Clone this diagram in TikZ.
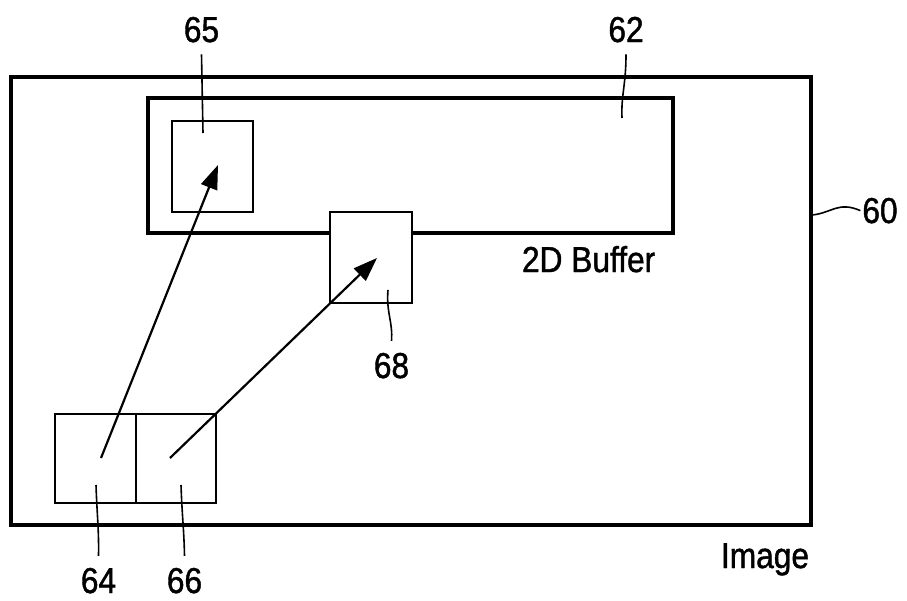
\documentclass[tikz,border=0pt]{standalone}
\usepackage{fontspec}
\setmainfont{Liberation Sans}[FakeStretch=0.88,FakeBold=1.2]
\usetikzlibrary{arrows.meta}
\begin{document}
\begin{tikzpicture}[x=1pt,y=-1pt,
frame/.style={draw=black,line width=4.5pt,inner sep=0pt},
cell/.style={draw=black,line width=2.7pt,fill=white,inner sep=0pt},
num/.style={font=\fontsize{36}{40}\selectfont,inner sep=0pt,outer sep=12pt,anchor=base},
ptr/.style={line width=2.2pt,-{Triangle[length=24pt,width=17pt]}},
lead/.style={line width=1.6pt}
]
\useasboundingbox (0,0) rectangle (907,600);
\node[frame,minimum width=800pt,minimum height=448pt] (image) at (411,301) {};
\node[frame,minimum width=525pt,minimum height=135pt] (buffer) at (410.5,165.5) {};
\node[cell,minimum width=81pt,minimum height=91pt] (b65) at (212.5,166.5) {};
\node[cell,minimum width=82pt,minimum height=91pt] (b68) at (371,257.5) {};
\node[cell,minimum width=81pt,minimum height=89pt] (b64) at (95.5,458.5) {};
\node[cell,minimum width=80pt,minimum height=89pt] (b66) at (176,458.5) {};
% arrow ends inside the cells
\coordinate (s64) at (101,458);
\coordinate (e65) at (218,165);
\coordinate (s66) at (170,458);
\coordinate (e68) at (377,258);
\draw[ptr] (s64) -- (e65);
\draw[ptr] (s66) -- (e68);
% labels
\node[num] (l65) at (201.5,42) {65};
\node[num] (l62) at (626,42) {62};
\node[num,outer sep=2pt] (l60) at (880,223) {60};
\node[num] (l68) at (391.5,378) {68};
\node[num] (l64) at (98.5,593) {64};
\node[num] (l66) at (184.5,593) {66};
\node[num,outer sep=0pt] (limage) at (765,568) {Image};
\node[num,anchor=base west,outer sep=0pt] (lbuf) at (522,272) {2D Buffer};
% leader lines
\coordinate (p65) at (203,133);
\coordinate (p62) at (622,118);
\coordinate (p60) at (812,215);
\coordinate (p68) at (388,290);
\coordinate (p64) at (96,485);
\coordinate (p66) at (181,485);
\draw[lead] (l65.south) -- (p65);
\draw[lead] (l62.south) .. controls (626,85) and (621,95) .. (p62);
\draw[lead] (p60) .. controls (832,213) and (838,201) .. (l60.west);
\draw[lead] (p68) .. controls (386,312) and (393,322) .. (l68.north);
\draw[lead] (p64) .. controls (97,515) and (99,530) .. (l64.north);
\draw[lead] (p66) .. controls (182,515) and (184,530) .. (l66.north);
\end{tikzpicture}
\end{document}
